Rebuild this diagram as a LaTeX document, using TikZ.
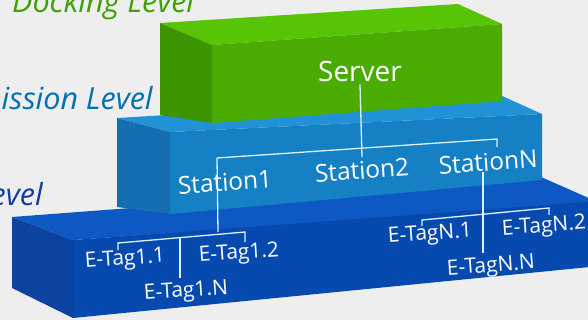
\documentclass[tikz,border=0pt]{standalone}
\usepackage{fontspec}
\setmainfont{Open Sans}
\usetikzlibrary{calc}
\begin{document}
\begin{tikzpicture}[x=1pt,y=-1pt,
  lvl/.style={font=\itshape\fontsize{30.5}{30.5}\selectfont,inner sep=0pt},
  srv/.style={text=white,font=\fontsize{28}{28}\selectfont,inner sep=0pt},
  stn/.style={text=white,font=\fontsize{24.5}{24.5}\selectfont,inner sep=0pt,rotate=4},
  tag/.style={text=white,font=\fontsize{21}{21}\selectfont,inner sep=0pt,rotate=4},
  wire/.style={draw=white!85!cyan,line width=1.3pt}]
\definecolor{bg}{RGB}{238,238,238}
\definecolor{gTop}{RGB}{88,196,6}
\definecolor{gFront}{RGB}{74,172,0}
\definecolor{gLeft}{RGB}{60,148,0}
\definecolor{mTop}{RGB}{34,146,214}
\definecolor{mFront}{RGB}{22,128,196}
\definecolor{mLeft}{RGB}{20,110,176}
\definecolor{lTop}{RGB}{14,88,196}
\definecolor{lFront}{RGB}{6,74,176}
\definecolor{lLeft}{RGB}{12,66,160}
\useasboundingbox (0,0) rectangle (588,320);
\clip (0,0) rectangle (588,320);
\fill[bg] (0,0) rectangle (588,320);
% lower box
\fill[lTop] (12,217) -- (541,177) -- (600,203) -- (73,240) -- cycle;
\fill[lLeft] (12,217) -- (73,240) -- (73,318) -- (12,288) -- cycle;
\fill[lFront] (73,240) -- (600,201) -- (600,266) -- (73,318) -- cycle;
% middle box
\fill[mTop] (117,118) -- (500,95) -- (542,114) -- (170,132) -- cycle;
\fill[mLeft] (117,118) -- (170,132) -- (170,214) -- (117,207) -- cycle;
\fill[mFront] (170,132) -- (542,114) -- (542,180) -- (170,214) -- cycle;
% green box
\fill[gTop] (160,23) -- (458,4) -- (502,24) -- (212,45) -- cycle;
\fill[gLeft] (160,23) -- (212,45) -- (212,123) -- (160,115) -- cycle;
\fill[gFront] (212,45) -- (502,24) -- (502,101) -- (212,123) -- cycle;
% level labels
\node[lvl,text={rgb,255:red,62;green,160;blue,0},anchor=base west] (dock) at (12,13) {Docking Level};
\node[lvl,text={rgb,255:red,0;green,112;blue,180},anchor=base east] (trans) at (153,110) {Transmission Level};
\node[lvl,text={rgb,255:red,18;green,62;blue,160},anchor=base east] (low) at (43,205) {Level};
% texts
\node[srv] (server) at (360,72) {Server};
\node[stn] (st1) at (225,182) {Station1};
\node[stn] (st2) at (362,170) {Station2};
\node[stn] (stN) at (488,162) {StationN};
\node[tag] (t11) at (125,260) {E-Tag1.1};
\node[tag] (t12) at (239,254) {E-Tag1.2};
\node[tag] (t1N) at (186,292) {E-Tag1.N};
\node[tag] (tN1) at (430,235) {E-TagN.1};
\node[tag] (tN2) at (544,227) {E-TagN.2};
\node[tag] (tNN) at (491,267) {E-TagN.N};
% station bar
\coordinate (sbL) at (217,158);
\coordinate (sbR) at (497,139);
\coordinate (sbM) at (362,148);
\draw[wire] (server.south) ++(0,2) -- ($(sbM)+(0,9)$);
\draw[wire] ($(sbR)+(0,8)$) -- (sbR) -- (sbL);
% tag bar 1
\coordinate (b1L) at (118,243);
\coordinate (b1R) at (245,232);
\coordinate (b1M) at (180,237);
\draw[wire] (sbL) -- (218,232);
\draw[wire] ($(b1L)+(0,7)$) -- (b1L) -- (b1R) -- ($(b1R)+(0,10)$);
\draw[wire] (b1M) -- (180,278);
% tag bar N
\coordinate (bNL) at (422,220);
\coordinate (bNR) at (549,208);
\coordinate (bNM) at (483,214);
\draw[wire] (483,172) -- (483,253);
\draw[wire] ($(bNL)+(0,6)$) -- (bNL) -- (bNR) -- ($(bNR)+(0,7)$);
\end{tikzpicture}
\end{document}
